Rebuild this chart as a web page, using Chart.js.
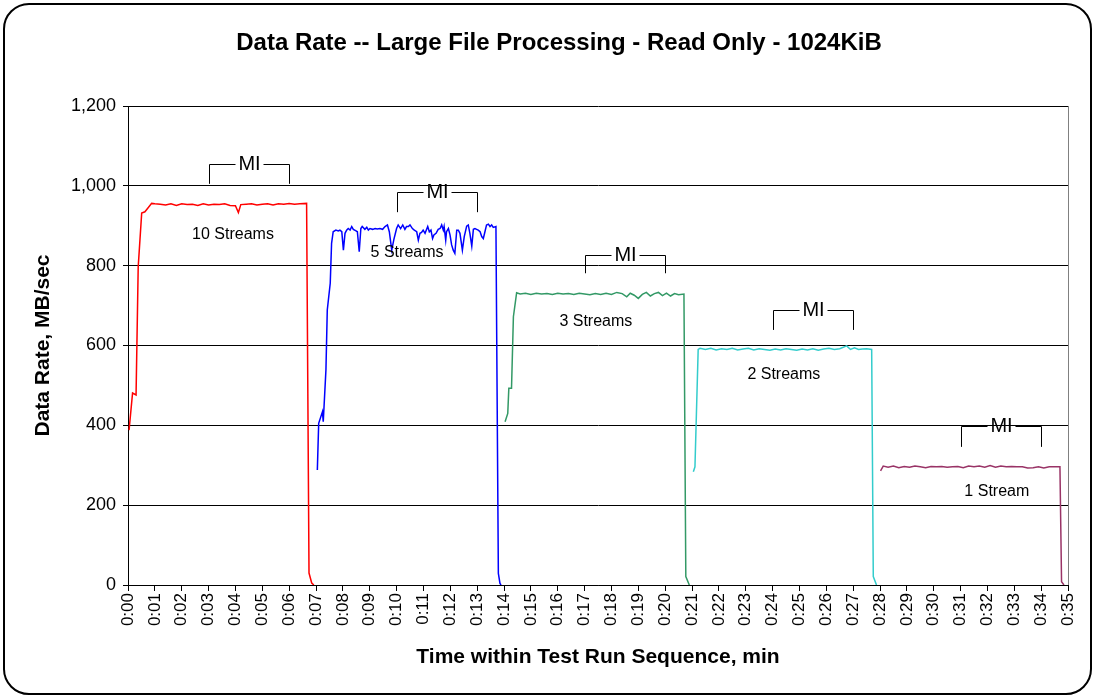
<!DOCTYPE html>
<html>
<head>
<meta charset="utf-8">
<script src="https://cdn.jsdelivr.net/npm/chart.js@4.4.1/dist/chart.umd.min.js"></script>
<style>
  html, body { margin: 0; padding: 0; background: #fff; }
  #wrap { position: relative; width: 1093px; height: 698px; }
  #frame {
    position: absolute; left: 3px; top: 3px; width: 1085px; height: 688px;
    border: 2px solid #000; border-radius: 26px;
  }
  #chart { position: absolute; left: 0; top: 0; }
</style>
</head>
<body>
<div id="wrap">
  <div id="frame"></div>
  <canvas id="chart" width="1093" height="698"></canvas>
</div>
<script>
// time in minutes, data rate in MB/sec
const time10 = [0.04, 0.17, 0.30, 0.38, 0.51, 0.63, 0.75, 0.88, 1.0, 1.2, 1.4, 1.6, 1.8, 2.0, 2.2, 2.4, 2.6, 2.8, 3.0, 3.2, 3.4, 3.6, 3.8, 4.0, 4.11, 4.2, 4.4, 4.6, 4.8, 5.0, 5.2, 5.4, 5.6, 5.8, 6.0, 6.2, 6.4, 6.65, 6.74, 6.84, 6.92];
const rate10 = [388, 481, 476, 797, 932, 935, 945, 956, 955, 954, 952, 955, 951, 955, 953, 954, 951, 955, 952, 954, 953, 955, 951, 950, 933, 953, 954, 955, 952, 954, 955, 952, 955, 954, 956, 954, 955, 956, 30, 5, 0];

const time5 = [7.05, 7.10, 7.24, 7.27, 7.37, 7.42, 7.53, 7.58, 7.64, 7.74,
  7.83, 7.89, 7.96, 8.02, 8.08, 8.14, 8.20, 8.27, 8.33, 8.39,
  8.49, 8.54, 8.61, 8.67, 8.72, 8.82, 8.89, 8.95, 9.01, 9.11,
  9.20, 9.28, 9.38, 9.48, 9.57, 9.66, 9.73, 9.82, 9.90, 10.00,
  10.06, 10.15, 10.23, 10.31, 10.37, 10.44, 10.50, 10.59, 10.66, 10.75,
  10.81, 10.87, 10.93, 10.99, 11.06, 11.16, 11.22, 11.28, 11.34, 11.39,
  11.47, 11.55, 11.62, 11.68, 11.74, 11.77, 11.83, 11.86, 11.93, 11.99,
  12.05, 12.11, 12.17, 12.24, 12.30, 12.36, 12.45, 12.52, 12.61, 12.67,
  12.73, 12.80, 12.86, 12.92, 12.98, 13.04, 13.11, 13.17, 13.23, 13.29,
  13.35, 13.42, 13.48, 13.54, 13.60, 13.70, 13.79, 13.85, 13.89];
const rate5 = [288, 405, 434, 409, 539, 689, 756, 856, 885, 889,
  887, 889, 885, 839, 881, 889, 893, 889, 898, 891,
  887, 885, 835, 893, 898, 891, 896, 889, 893, 891,
  893, 892, 893, 891, 898, 902, 885, 839, 866, 893,
  902, 893, 902, 891, 898, 898, 902, 893, 889, 885,
  864, 881, 883, 889, 881, 898, 885, 889, 868, 877,
  881, 891, 893, 902, 889, 898, 864, 885, 893, 877,
  852, 839, 831, 889, 889, 881, 839, 873, 899, 902,
  881, 849, 891, 893, 891, 889, 885, 873, 868, 885,
  902, 904, 898, 902, 896, 898, 29, 4, 0];

const time3 = [14.04, 14.14, 14.18, 14.28, 14.35, 14.47, 14.6, 14.8, 15.0, 15.2, 15.4, 15.6, 15.8, 16.0, 16.2, 16.4, 16.6, 16.8, 17.0, 17.2, 17.4, 17.6, 17.8, 18.0, 18.2, 18.4, 18.57, 18.7, 18.85, 19.0, 19.15, 19.3, 19.45, 19.6, 19.75, 19.9, 20.05, 20.2, 20.35, 20.5, 20.7, 20.77, 20.9];
const rate3 = [409, 430, 493, 493, 672, 732, 729, 731, 728, 731, 729, 730, 728, 731, 729, 730, 728, 731, 729, 727, 730, 728, 731, 728, 733, 730, 722, 731, 726, 718, 728, 733, 724, 730, 733, 725, 731, 724, 730, 727, 729, 21, 0];

const time2 = [21.05, 21.11, 21.23, 21.30, 21.5, 21.7, 21.9, 22.1, 22.3, 22.5, 22.7, 22.9, 23.1, 23.3, 23.5, 23.7, 23.9, 24.1, 24.3, 24.5, 24.7, 24.9, 25.1, 25.3, 25.5, 25.7, 25.9, 26.1, 26.3, 26.5, 26.76, 26.9, 27.05, 27.2, 27.35, 27.5, 27.69, 27.75, 27.87];
const rate2 = [284, 296, 590, 593, 590, 593, 589, 592, 590, 593, 589, 591, 593, 589, 592, 590, 588, 591, 589, 592, 590, 588, 591, 589, 592, 588, 591, 593, 590, 592, 599, 590, 594, 590, 591, 592, 590, 21, 0];

const time1 = [28.02, 28.12, 28.3, 28.5, 28.7, 28.9, 29.1, 29.3, 29.5, 29.7, 29.9, 30.1, 30.3, 30.5, 30.7, 30.9, 31.1, 31.3, 31.5, 31.7, 31.9, 32.1, 32.3, 32.5, 32.7, 32.9, 33.1, 33.3, 33.5, 33.7, 33.9, 34.1, 34.3, 34.5, 34.7, 34.76, 34.85];
const rate1 = [286, 298, 295, 298, 294, 297, 295, 298, 296, 294, 297, 296, 297, 295, 296, 297, 294, 298, 296, 298, 295, 299, 295, 298, 296, 297, 296, 296, 293, 294, 296, 293, 296, 296, 296, 8, 0];

// text labels inside the plot
const streamLabels = ['10 Streams', '5 Streams', '3 Streams', '2 Streams', '1 Stream'];
const labelX = [3.91, 10.39, 17.42, 24.42, 32.35];
const labelY = [879, 832, 661, 526, 233];

// measurement interval brackets
const miStart = [3, 10, 17, 24, 31];
const miEnd = [6, 13, 20, 27, 34];
const miTop = [1055, 985, 827, 689, 398];
const miBottom = [1005, 934, 781, 639, 346];

const chartTitle = 'Data Rate -- Large File Processing - Read Only - 1024KiB';
const seriesColors = ['#FF0000', '#0000FF', '#339966', '#33CCCC', '#993366'];
const FONT = "'Liberation Sans', Arial, sans-serif";

function toPoints(xs, ys) {
  return xs.map((x, i) => ({ x: x, y: ys[i] }));
}

const series = [
  [time10, rate10], [time5, rate5], [time3, rate3], [time2, rate2], [time1, rate1]
];

const annotate = {
  id: 'annotate',
  afterDatasetsDraw(chart) {
    const ctx = chart.ctx;
    const xs = chart.scales.x, ys = chart.scales.y;
    ctx.save();

    // title, centred over the whole frame (Excel style)
    ctx.fillStyle = '#000';
    ctx.font = 'bold 24px ' + FONT;
    ctx.textAlign = 'center';
    ctx.textBaseline = 'middle';
    ctx.fillText(chartTitle, 559, 43);

    // plot area right border
    ctx.strokeStyle = '#808080';
    ctx.lineWidth = 1;
    ctx.beginPath();
    ctx.moveTo(Math.round(chart.chartArea.right) + 0.5, chart.chartArea.top);
    ctx.lineTo(Math.round(chart.chartArea.right) + 0.5, chart.chartArea.bottom);
    ctx.stroke();

    ctx.font = '16px ' + FONT;
    streamLabels.forEach((t, i) => {
      ctx.fillText(t, xs.getPixelForValue(labelX[i]), ys.getPixelForValue(labelY[i]));
    });

    ctx.strokeStyle = '#000';
    ctx.lineWidth = 1;
    ctx.font = '20px ' + FONT;
    miStart.forEach((s, i) => {
      const x0 = Math.round(xs.getPixelForValue(s)) + 0.5;
      const x1 = Math.round(xs.getPixelForValue(miEnd[i])) + 0.5;
      const yt = Math.round(ys.getPixelForValue(miTop[i])) + 0.5;
      const yb = ys.getPixelForValue(miBottom[i]);
      const mid = (x0 + x1) / 2;
      ctx.beginPath();
      ctx.moveTo(x0, yb); ctx.lineTo(x0, yt); ctx.lineTo(mid - 14, yt);
      ctx.moveTo(mid + 14, yt); ctx.lineTo(x1, yt); ctx.lineTo(x1, yb);
      ctx.stroke();
      ctx.fillText('MI', mid, yt);
    });
    ctx.restore();
  }
};

new Chart(document.getElementById('chart'), {
  type: 'line',
  data: {
    datasets: series.map((s, i) => ({
      label: streamLabels[i],
      data: toPoints(s[0], s[1]),
      borderColor: seriesColors[i],
      borderWidth: 1.5,
      pointRadius: 0,
      tension: 0,
      fill: false
    }))
  },
  options: {
    responsive: false,
    animation: false,
    layout: { padding: { left: 0, right: 25, top: 106, bottom: 0 } },
    plugins: {
      legend: { display: false },
      tooltip: { enabled: false },
      title: { display: false }
    },
    scales: {
      x: {
        type: 'linear',
        min: 0,
        max: 35,
        afterFit(scale) { scale.height = 113; },
        ticks: {
          stepSize: 1,
          autoSkip: false,
          minRotation: 90,
          maxRotation: 90,
          padding: 2,
          color: '#000',
          font: { family: FONT, size: 17 },
          callback: (v) => '0:' + String(v).padStart(2, '0')
        },
        grid: { drawOnChartArea: false, drawTicks: true, tickLength: 6, color: '#000' },
        border: { display: true, color: '#000', width: 1 },
        title: {
          display: true,
          text: 'Time within Test Run Sequence, min',
          color: '#000',
          font: { family: FONT, size: 21, weight: 'bold' },
          padding: { top: 0, bottom: 28 }
        }
      },
      y: {
        min: 0,
        max: 1200,
        afterFit(scale) { scale.width = 128; },
        ticks: {
          stepSize: 200,
          padding: 7,
          color: '#000',
          font: { family: FONT, size: 18 },
          callback: (v) => v.toLocaleString('en-US')
        },
        grid: { color: '#000', lineWidth: 1, tickLength: 5 },
        border: { display: true, color: '#000', width: 1 },
        title: {
          display: true,
          text: 'Data Rate, MB/sec',
          color: '#000',
          font: { family: FONT, size: 21, weight: 'bold' },
          padding: { top: 31, bottom: 0 }
        }
      }
    }
  },
  plugins: [annotate]
});
</script>
</body>
</html>
